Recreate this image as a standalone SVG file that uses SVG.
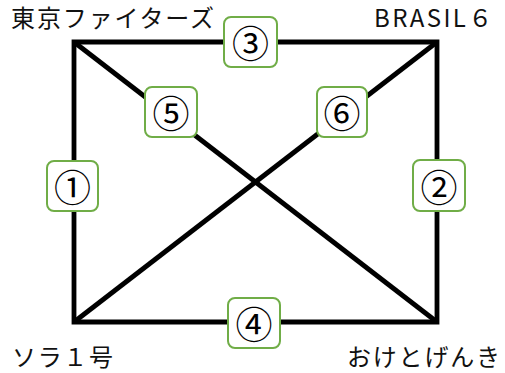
<svg xmlns="http://www.w3.org/2000/svg" width="505" height="373" viewBox="0 0 505 373">
<style>
.ln{stroke:#000;stroke-width:4.8;fill:none;stroke-linejoin:miter}
.bx{fill:#fff;stroke:#70AD47;stroke-width:2}
.num{font-family:"Noto Sans CJK JP","DejaVu Sans",sans-serif;font-size:37px;text-anchor:middle;dominant-baseline:central;fill:#000}
.lbl{font-family:"Noto Sans CJK JP",sans-serif;font-size:24px;fill:#111}
</style>
<rect width="505" height="373" fill="#fff"/>
<g id="connectors">
<path class="ln" d="M74,42 H437 V322 H74 Z"/>
<line class="ln" x1="74" y1="42" x2="437" y2="322"/>
<line class="ln" x1="437" y1="42" x2="74" y2="322"/>
</g>
<g id="node-tokyo"><text class="lbl" x="11" y="27" textLength="203" lengthAdjust="spacing">東京ファイターズ</text></g>
<g id="node-brasil"><text class="lbl" x="374" y="27" style="font-size:24px;letter-spacing:2.4px">BRASIL６</text></g>
<g id="node-sora"><text class="lbl" x="12" y="366" textLength="101" lengthAdjust="spacing">ソラ１号</text></g>
<g id="node-oke"><text class="lbl" x="347" y="366" textLength="153" lengthAdjust="spacing">おけとげんき</text></g>
<g id="label-1"><rect class="bx" x="47" y="161" width="51" height="50" rx="7"/><text class="num" x="72.5" y="186">①</text></g>
<g id="label-2"><rect class="bx" x="413" y="160" width="52" height="51" rx="7"/><text class="num" x="439" y="185.5">②</text></g>
<g id="label-3"><rect class="bx" x="224" y="17" width="53" height="50" rx="7"/><text class="num" x="250.5" y="42">③</text></g>
<g id="label-4"><rect class="bx" x="228" y="298" width="52" height="50" rx="7"/><text class="num" x="254" y="323">④</text></g>
<g id="label-5"><rect class="bx" x="145" y="87" width="52" height="50" rx="7"/><text class="num" x="171" y="112">⑤</text></g>
<g id="label-6"><rect class="bx" x="317" y="87" width="50" height="50" rx="7"/><text class="num" x="342" y="112">⑥</text></g>
</svg>
